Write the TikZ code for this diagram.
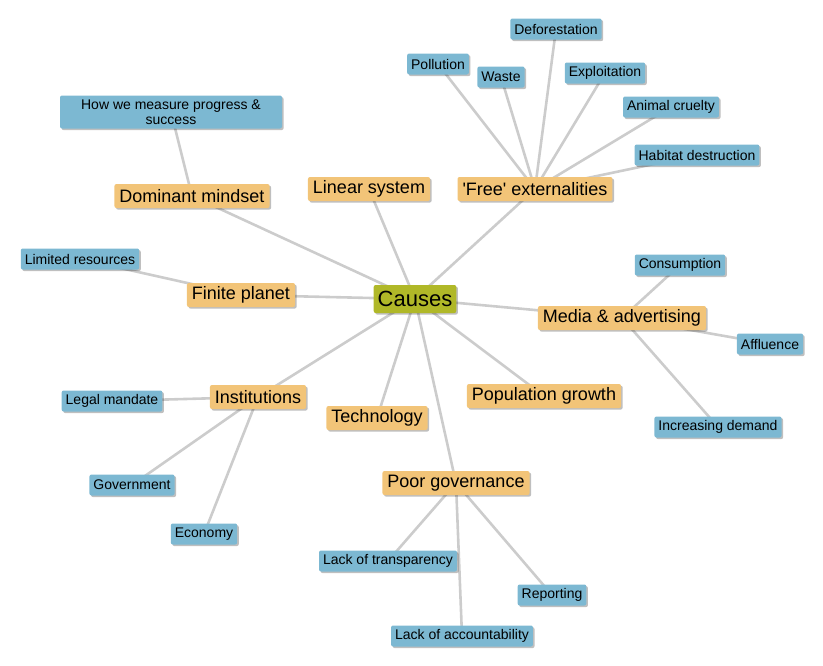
\documentclass[tikz,border=0pt]{standalone}
\usepackage{fontspec}
\setmainfont{Liberation Sans}
\usetikzlibrary{shadows,backgrounds}
\definecolor{hubc}{RGB}{176,184,40}
\definecolor{orangec}{RGB}{242,196,120}
\definecolor{bluec}{RGB}{124,184,210}
\definecolor{edgec}{RGB}{204,204,204}
\newcommand{\sq}{\XeTeXglyph\XeTeXglyphindex "quotesingle"\relax}
\tikzset{
  base/.style={rounded corners=2pt, inner xsep=4pt, inner ysep=0pt, anchor=center,
    drop shadow={shadow xshift=1.6pt, shadow yshift=-1.6pt, fill=black, opacity=0.25}},
  hub/.style={base, fill=hubc, minimum height=28pt, font=\fontsize{22}{24}\selectfont},
  cat/.style={base, fill=orangec, minimum height=24pt, inner xsep=5pt, font=\fontsize{18}{20}\selectfont},
  leaf/.style={base, fill=bluec, minimum height=21pt, font=\fontsize{14}{16}\selectfont},
  link/.style={draw=edgec, line width=2.6pt},
}
\begin{document}
\begin{tikzpicture}[x=1pt,y=-1pt]
\useasboundingbox (0,0) rectangle (823,665);
% nodes
\node[hub] (causes) at (415,299) {Causes};
\node[cat] (dom) at (192,196) {Dominant mindset};
\node[cat] (lin) at (369,189) {Linear system};
\node[cat] (free) at (535,189) {\sq Free\sq{} externalities};
\node[cat] (fin) at (241,295) {Finite planet};
\node[cat] (med) at (622,318) {Media \& advertising};
\node[cat] (inst) at (258,397) {Institutions};
\node[cat] (tech) at (377,418) {Technology};
\node[cat] (pop) at (544,396) {Population growth};
\node[cat] (poor) at (456,483) {Poor governance};
\node[leaf, minimum width=222pt, minimum height=33pt, align=center, font=\fontsize{14}{15}\selectfont] (meas) at (171,112) {How we measure progress \&\\success};
\node[leaf] (poll) at (438,64) {Pollution};
\node[leaf] (def) at (556,29) {Deforestation};
\node[leaf] (waste) at (501,77) {Waste};
\node[leaf] (expl) at (605,73) {Exploitation};
\node[leaf] (anim) at (671,107) {Animal cruelty};
\node[leaf] (hab) at (697,155) {Habitat destruction};
\node[leaf] (lim) at (80,259) {Limited resources};
\node[leaf] (cons) at (680,265) {Consumption};
\node[leaf] (aff) at (770,344) {Affluence};
\node[leaf] (inc) at (718,427) {Increasing demand};
\node[leaf] (legal) at (112,401) {Legal mandate};
\node[leaf] (gov) at (132,485) {Government};
\node[leaf] (econ) at (204,534) {Economy};
\node[leaf] (trans) at (388,561) {Lack of transparency};
\node[leaf] (rep) at (552,595) {Reporting};
\node[leaf] (acc) at (462,636) {Lack of accountability};
% connectors
\begin{scope}[on background layer]
\foreach \a/\b in {causes/dom, causes/lin, causes/free, causes/fin, causes/med,
  causes/inst, causes/tech, causes/pop, causes/poor,
  dom/meas, free/poll, free/def, free/waste, free/expl, free/anim, free/hab,
  fin/lim, med/cons, med/aff, med/inc, inst/legal, inst/gov, inst/econ,
  poor/trans, poor/rep, poor/acc}
  \draw[link] (\a.center) -- (\b.center);
\end{scope}
\end{tikzpicture}
\end{document}
